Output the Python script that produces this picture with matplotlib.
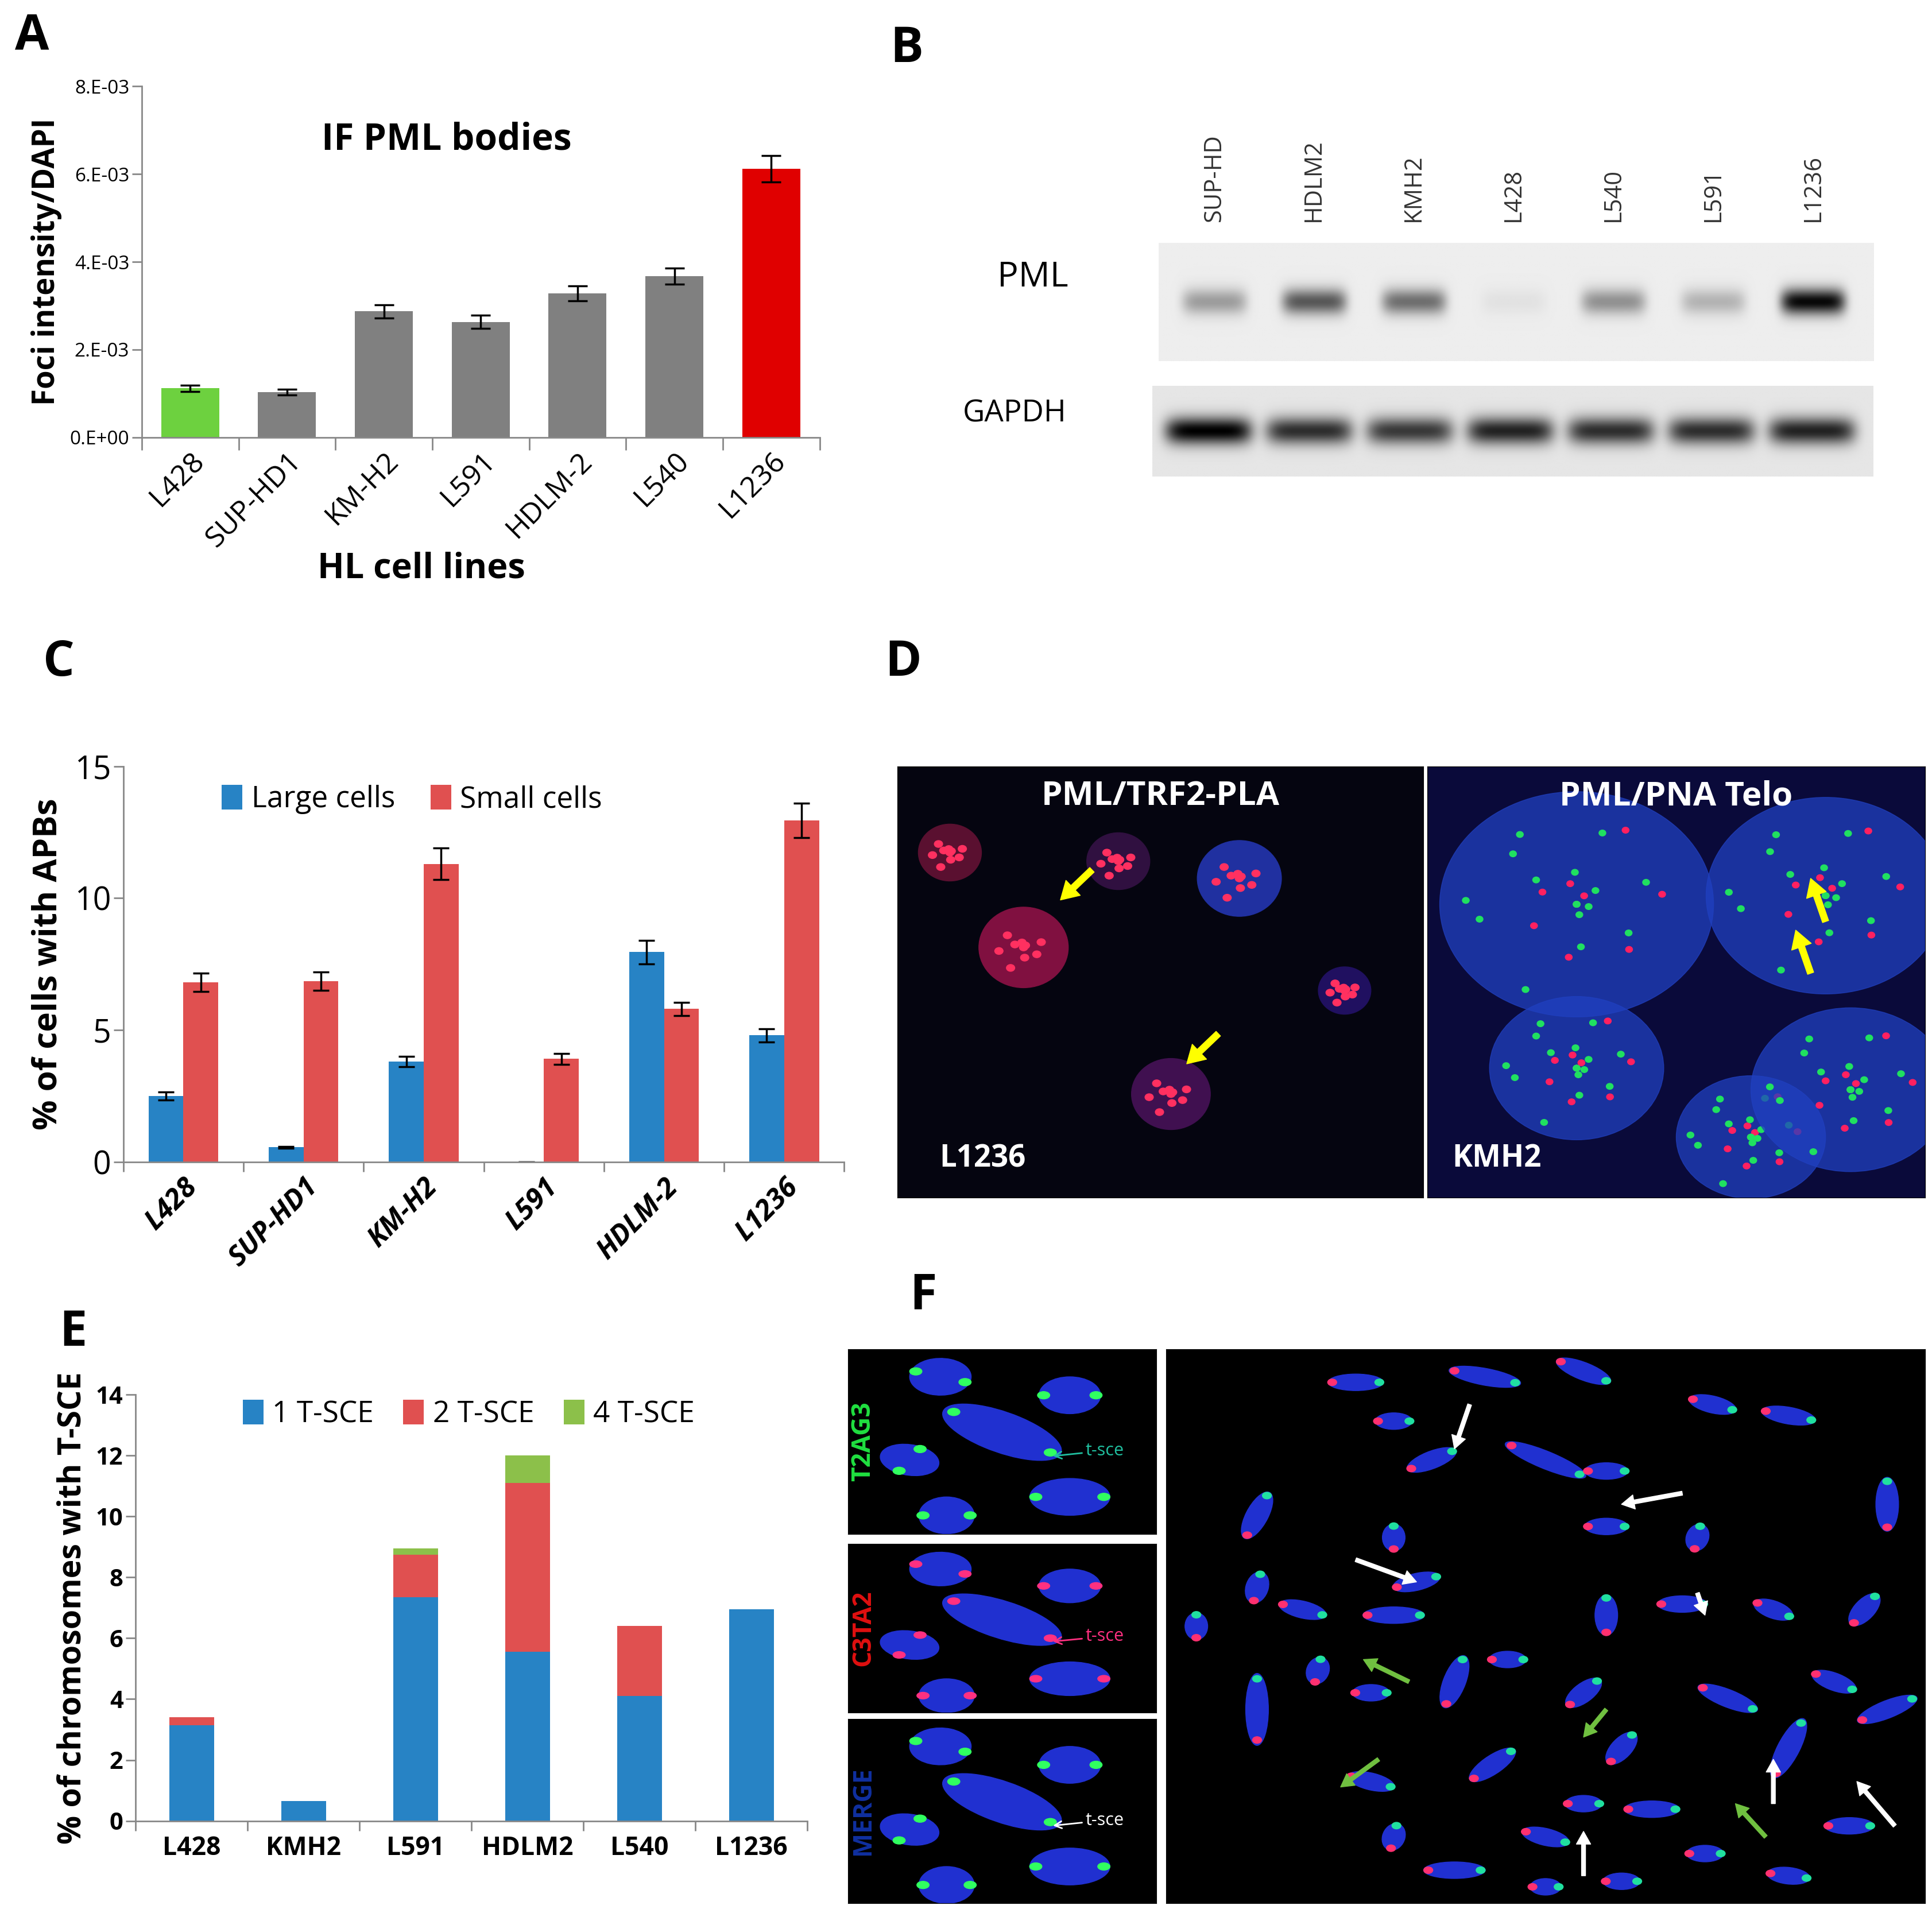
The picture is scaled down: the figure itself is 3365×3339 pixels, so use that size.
import matplotlib
matplotlib.use("Agg")
import matplotlib.pyplot as plt
import numpy as np
from matplotlib.patches import Ellipse, Circle

plt.rcParams['font.family'] = ['Open Sans', 'DejaVu Sans']

# ---------- data ----------
a_cats = ["L428", "SUP-HD1", "KM-H2", "L591", "HDLM-2", "L540", "L1236"]
a_vals = [1.12e-3, 1.03e-3, 2.87e-3, 2.63e-3, 3.28e-3, 3.67e-3, 6.12e-3]
a_err = [0.07e-3, 0.07e-3, 0.15e-3, 0.15e-3, 0.17e-3, 0.18e-3, 0.30e-3]
a_cols = ["#6dd13f", "#808080", "#808080", "#808080", "#808080", "#808080", "#e00000"]

c_cats = ["L428", "SUP-HD1", "KM-H2", "L591", "HDLM-2", "L1236"]
c_large = [2.5, 0.55, 3.8, 0.0, 7.95, 4.8]
c_large_err = [0.15, 0.03, 0.2, 0.0, 0.45, 0.25]
c_small = [6.8, 6.85, 11.3, 3.9, 5.8, 12.95]
c_small_err = [0.35, 0.35, 0.6, 0.2, 0.25, 0.65]

e_cats = ["L428", "KMH2", "L591", "HDLM2", "L540", "L1236"]
e_one = [3.15, 0.65, 7.35, 5.55, 4.1, 6.95]
e_two = [0.25, 0.0, 1.4, 5.55, 2.3, 0.0]
e_four = [0.0, 0.0, 0.2, 0.9, 0.0, 0.0]

b_lanes = ["SUP-HD", "HDLM2", "KMH2", "L428", "L540", "L591", "L1236"]
b_pml = [0.35, 0.65, 0.55, 0.05, 0.4, 0.25, 1.0]
b_gapdh = [1.0, 0.8, 0.75, 0.85, 0.8, 0.8, 0.85]

W, H = 3366, 3339
fig = plt.figure(figsize=(W / 100, H / 100), dpi=100)
SX, SY = 1568.0, 1556.0

def rect(x0, y0, x1, y1):
    return [x0 / SX, 1 - y1 / SY, (x1 - x0) / SX, (y1 - y0) / SY]

def letter(x, y, t):
    fig.text(x / SX, 1 - y / SY, t, fontsize=62, fontweight='bold', ha='left', va='center')

def style_ax(ax):
    for s in ['top', 'right']:
        ax.spines[s].set_visible(False)
    for s in ['left', 'bottom']:
        ax.spines[s].set_color('#888888')
        ax.spines[s].set_linewidth(2)
    ax.tick_params(color='#888888', width=2, length=12)

# ---------- Panel A ----------
letter(12, 30, "A")
axA = fig.add_axes(rect(115, 70, 665, 355))
x = np.arange(len(a_cats))
axA.bar(x, a_vals, 0.6, color=a_cols, yerr=a_err, capsize=12,
        error_kw=dict(elinewidth=2.5, capthick=2.5, ecolor='black'))
axA.set_ylim(0, 8e-3)
axA.set_xlim(-0.5, len(a_cats) - 0.5)
axA.set_yticks([0, 2e-3, 4e-3, 6e-3, 8e-3])
axA.set_yticklabels(["0.E+00", "2.E-03", "4.E-03", "6.E-03", "8.E-03"], fontsize=24)
axA.set_xticks(np.arange(-0.5, len(a_cats), 1), minor=False)
axA.set_xticklabels([])
axA.set_xticks(x, minor=True)
axA.set_xticklabels(a_cats, minor=True, rotation=45, ha='right', rotation_mode='anchor', fontsize=36)
axA.tick_params(axis='x', which='minor', length=0, pad=12)
style_ax(axA)
axA.tick_params(axis='x', which='major', direction='out', length=16)
axA.set_ylabel("Foci intensity/DAPI", fontsize=38, fontweight='bold', labelpad=10)
axA.text(0.45, 0.82, "IF PML bodies", transform=axA.transAxes, fontsize=46, fontweight='bold', ha='center')
fig.text(342 / SX, 1 - 462 / SY, "HL cell lines", fontsize=44, fontweight='bold', ha='center', va='center')

# ---------- Panel B ----------
letter(722, 40, "B")
for i, lab in enumerate(b_lanes):
    fig.text((985 + i * 81) / SX, 1 - 180 / SY, lab, rotation=90, fontsize=30, ha='center', va='bottom', color='#333333')
fig.text(838 / SX, 1 - 225 / SY, "PML", fontsize=44, ha='center', va='center')
fig.text(823 / SX, 1 - 336 / SY, "GAPDH", fontsize=38, ha='center', va='center')

def blot(ax, vals, centers, width, thick, bg):
    nx, ny = 600, 100
    xx = np.linspace(0, 1, nx)
    yy = np.linspace(-1, 1, ny)
    img = np.full((ny, nx), bg)
    for v, c in zip(vals, centers):
        prof = v * np.exp(-((xx - c) / width) ** 6)
        img -= np.outer(np.exp(-(yy / thick) ** 2), prof) * 0.9
    ax.imshow(np.clip(img, 0, 1), cmap='gray', vmin=0, vmax=1, aspect='auto', extent=[0, 1, 0, 1])
    ax.set_axis_off()

centers = [(985 + i * 81 - 940) / 580 for i in range(7)]
axB1 = fig.add_axes(rect(940, 197, 1520, 293))
blot(axB1, b_pml, centers, 0.045, 0.22, 0.93)
axB2 = fig.add_axes(rect(935, 313, 1520, 387))
blot(axB2, b_gapdh, centers, 0.06, 0.3, 0.9)

# ---------- Panel C ----------
letter(35, 538, "C")
axC = fig.add_axes(rect(100, 622, 685, 943))
x = np.arange(len(c_cats))
bw = 0.29
ek = dict(elinewidth=2.5, capthick=2.5, ecolor='black')
axC.bar(x - bw / 2, c_large, bw, color='#2783c5', yerr=[e if v > 0 else 0 for v, e in zip(c_large, c_large_err)],
        capsize=10, error_kw=ek, label='Large cells')
axC.bar(x + bw / 2, c_small, bw, color='#e05050', yerr=c_small_err, capsize=10, error_kw=ek, label='Small cells')
axC.set_ylim(0, 15)
axC.set_xlim(-0.5, len(c_cats) - 0.5)
axC.set_yticks([0, 5, 10, 15])
axC.set_yticklabels(["0", "5", "10", "15"], fontsize=40)
axC.set_xticks(np.arange(-0.5, len(c_cats), 1))
axC.set_xticklabels([])
axC.set_xticks(x, minor=True)
axC.set_xticklabels(c_cats, minor=True, rotation=45, ha='right', rotation_mode='anchor', fontsize=35,
                    fontweight='bold', fontstyle='italic')
axC.tick_params(axis='x', which='minor', length=0, pad=14)
style_ax(axC)
axC.set_ylabel("% of cells with APBs", fontsize=42, fontweight='bold', labelpad=12)
axC.legend(loc='upper left', bbox_to_anchor=(0.1, 1.02), ncol=2, frameon=False, fontsize=37,
           handlelength=0.7, handleheight=0.9, columnspacing=1.2, handletextpad=0.3)

# ---------- Panel D ----------
letter(718, 538, "D")
axD1 = fig.add_axes(rect(728, 622, 1155, 972))
axD2 = fig.add_axes(rect(1158, 622, 1562, 972))
for ax in (axD1, axD2):
    ax.set_xlim(0, 1); ax.set_ylim(0, 1)
    ax.set_xticks([]); ax.set_yticks([])
axD1.set_facecolor('#050510')
axD2.set_facecolor('#0a0a3a')
d1_nuclei = [(0.1, 0.8, 0.12, '#5a1030'), (0.24, 0.58, 0.17, '#801040'), (0.42, 0.78, 0.12, '#301040'),
             (0.65, 0.74, 0.16, '#2030a0'), (0.85, 0.48, 0.1, '#201060'), (0.52, 0.24, 0.15, '#401050')]
for cx, cy, r, c in d1_nuclei:
    axD1.add_patch(Ellipse((cx, cy), r, r * 1.1, color=c))
    for k in range(10):
        ang = k * 2.4
        rr = r * 0.35 * ((k * 7) % 10) / 10
        axD1.add_patch(Circle((cx + rr * np.cos(ang), cy + rr * np.sin(ang)), 0.008, color='#ff3060'))
axD1.annotate("", xy=(0.31, 0.69), xytext=(0.37, 0.76),
              arrowprops=dict(facecolor='yellow', edgecolor='yellow', width=8, headwidth=26, headlength=22))
axD1.annotate("", xy=(0.55, 0.31), xytext=(0.61, 0.38),
              arrowprops=dict(facecolor='yellow', edgecolor='yellow', width=8, headwidth=26, headlength=22))
axD1.text(0.5, 0.93, "PML/TRF2-PLA", color='white', fontsize=42, fontweight='bold', ha='center', va='center', transform=axD1.transAxes)
axD1.text(0.08, 0.09, "L1236", color='white', fontsize=38, fontweight='bold', va='center')
d2_nuclei = [(0.3, 0.68, 0.55), (0.8, 0.7, 0.48), (0.3, 0.3, 0.35), (0.65, 0.14, 0.3), (0.85, 0.25, 0.4)]
for cx, cy, r in d2_nuclei:
    axD2.add_patch(Ellipse((cx, cy), r, r * 0.95, color='#2040c0', alpha=0.75))
    for k in range(25):
        ang = k * 2.4
        rr = r * 0.45 * ((k * 7) % 10) / 10
        col = '#20e060' if k % 3 else '#ff2060'
        axD2.add_patch(Circle((cx + rr * np.cos(ang), cy + rr * np.sin(ang)), 0.007, color=col))
axD2.annotate("", xy=(0.74, 0.62), xytext=(0.77, 0.52),
              arrowprops=dict(facecolor='yellow', edgecolor='yellow', width=8, headwidth=26, headlength=22))
axD2.annotate("", xy=(0.77, 0.74), xytext=(0.8, 0.64),
              arrowprops=dict(facecolor='yellow', edgecolor='yellow', width=8, headwidth=26, headlength=22))
axD2.text(0.5, 0.93, "PML/PNA Telo", color='white', fontsize=42, fontweight='bold', ha='center', va='center', transform=axD2.transAxes)
axD2.text(0.05, 0.09, "KMH2", color='white', fontsize=38, fontweight='bold', va='center')

# ---------- Panel E ----------
letter(48, 1082, "E")
axE = fig.add_axes(rect(110, 1132, 655, 1478))
x = np.arange(len(e_cats))
bw = 0.4
axE.bar(x, e_one, bw, color='#2783c5', label='1 T-SCE')
axE.bar(x, e_two, bw, bottom=e_one, color='#e05050', label='2 T-SCE')
axE.bar(x, e_four, bw, bottom=np.add(e_one, e_two), color='#8cc04a', label='4 T-SCE')
axE.set_ylim(0, 14)
axE.set_xlim(-0.5, len(e_cats) - 0.5)
axE.set_yticks(range(0, 15, 2))
axE.set_yticklabels([str(v) for v in range(0, 15, 2)], fontsize=30, fontweight='bold')
axE.set_xticks(np.arange(-0.5, len(e_cats), 1))
axE.set_xticklabels([])
axE.set_xticks(x, minor=True)
axE.set_xticklabels(e_cats, minor=True, fontsize=32, fontweight='bold')
axE.tick_params(axis='x', which='minor', length=0, pad=18)
style_ax(axE)
axE.set_ylabel("% of chromosomes with T-SCE", fontsize=40, fontweight='bold', labelpad=10)
axE.legend(loc='upper left', bbox_to_anchor=(0.12, 1.05), ncol=3, frameon=False, fontsize=37,
           handlelength=0.7, handleheight=0.9, columnspacing=1.0, handletextpad=0.3)

# ---------- Panel F ----------
letter(738, 1052, "F")
f_left = [(1095, 1245, "T2AG3", '#20e040', '#20c0a0'),
          (1253, 1390, "C3TA2", '#e01010', '#ff3080'),
          (1395, 1545, "MERGE", '#1030a0', '#ffffff')]
chrom_small = [(0.3, 0.85, 0.2, -20), (0.5, 0.55, 0.45, -35), (0.72, 0.75, 0.2, 0), (0.2, 0.4, 0.16, 60),
               (0.72, 0.2, 0.26, 0), (0.32, 0.1, 0.18, 0)]
for y0, y1, lab, lc, ac in f_left:
    ax = fig.add_axes(rect(688, y0, 938, y1))
    ax.set_facecolor('black'); ax.set_xlim(0, 1); ax.set_ylim(0, 1)
    ax.set_xticks([]); ax.set_yticks([])
    for cx, cy, L, ang in chrom_small:
        ax.add_patch(Ellipse((cx, cy), L, 0.2, angle=ang, color='#2030d0'))
        dx = L / 2 * np.cos(np.radians(ang)); dy = L / 2 * np.sin(np.radians(ang))
        for sgn in (-1, 1):
            ax.add_patch(Circle((cx + sgn * dx * 0.85, cy + sgn * dy * 0.85), 0.02,
                                color='#30ff60' if lab != "C3TA2" else '#ff3080'))
    ax.annotate("t-sce", xy=(0.66, 0.42), xytext=(0.77, 0.45), color=ac, fontsize=22,
                arrowprops=dict(arrowstyle='->', color=ac, lw=2), va='center')
    ax.text(0.05, 0.5, lab, rotation=90, color=lc, fontsize=32, fontweight='bold', va='center', ha='center')

axF = fig.add_axes(rect(946, 1095, 1562, 1545))
axF.set_facecolor('black'); axF.set_xlim(0, 1); axF.set_ylim(0, 1)
axF.set_xticks([]); axF.set_yticks([])
chrom_big = [(0.25, 0.94, 45, 0), (0.42, 0.95, 60, -15), (0.55, 0.96, 50, -30), (0.72, 0.9, 40, -20),
             (0.82, 0.88, 45, -15), (0.3, 0.87, 30, 0), (0.12, 0.7, 55, 70), (0.35, 0.8, 45, 30),
             (0.5, 0.8, 75, -30), (0.58, 0.78, 35, 0), (0.58, 0.68, 35, 0), (0.12, 0.57, 35, 80),
             (0.3, 0.66, 30, 90), (0.33, 0.58, 40, 20), (0.7, 0.66, 30, 80), (0.95, 0.72, 60, 90),
             (0.04, 0.5, 30, 90), (0.18, 0.53, 40, -20), (0.3, 0.52, 50, 0), (0.58, 0.52, 45, 90),
             (0.68, 0.54, 40, 0), (0.8, 0.53, 35, -30), (0.92, 0.53, 40, 60), (0.12, 0.35, 80, 90),
             (0.2, 0.42, 30, 80), (0.27, 0.38, 30, 0), (0.38, 0.4, 60, 75), (0.45, 0.44, 30, 0),
             (0.55, 0.38, 40, 50), (0.6, 0.28, 40, 60), (0.74, 0.37, 55, -30), (0.88, 0.4, 40, -30),
             (0.95, 0.35, 55, 30), (0.82, 0.28, 70, 70), (0.27, 0.22, 40, -20), (0.43, 0.25, 50, 45),
             (0.3, 0.12, 30, 80), (0.5, 0.12, 40, -20), (0.55, 0.18, 30, 0), (0.64, 0.17, 45, 0),
             (0.71, 0.09, 30, 0), (0.82, 0.05, 35, -10), (0.38, 0.06, 50, 0), (0.6, 0.04, 30, 0),
             (0.9, 0.14, 40, 0), (0.5, 0.03, 25, 0)]
for cx, cy, L, ang in chrom_big:
    L = L / 616.0
    axF.add_patch(Ellipse((cx, cy), L, 0.03, angle=ang, color='#2030d0'))
    dx = L / 2 * np.cos(np.radians(ang)); dy = L / 2 * np.sin(np.radians(ang))
    axF.add_patch(Circle((cx - dx * 0.85, cy - dy * 0.85), 0.006, color='#ff3070'))
    axF.add_patch(Circle((cx + dx * 0.85, cy + dy * 0.85), 0.006, color='#20e0a0'))
arrows_w = [((0.38, 0.82), (0.4, 0.9)), ((0.6, 0.72), (0.68, 0.74)), ((0.33, 0.58), (0.25, 0.62)),
            ((0.71, 0.52), (0.7, 0.56)), ((0.8, 0.26), (0.8, 0.18)), ((0.91, 0.22), (0.96, 0.14)),
            ((0.55, 0.13), (0.55, 0.05))]
for xy, xyt in arrows_w:
    axF.annotate("", xy=xy, xytext=xyt, arrowprops=dict(facecolor='white', edgecolor='white', width=5, headwidth=18, headlength=16))
arrows_g = [((0.26, 0.44), (0.32, 0.4)), ((0.23, 0.21), (0.28, 0.26)), ((0.55, 0.3), (0.58, 0.35)),
            ((0.75, 0.18), (0.79, 0.12))]
for xy, xyt in arrows_g:
    axF.annotate("", xy=xy, xytext=xyt, arrowprops=dict(facecolor='#70c040', edgecolor='#70c040', width=5, headwidth=18, headlength=16))

fig.savefig("out.png", dpi=100, facecolor='white')
